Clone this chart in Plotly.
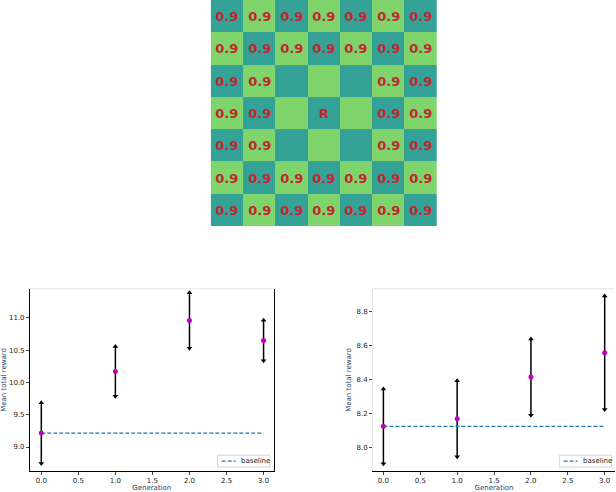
import plotly.graph_objects as go

# grid labels (top board)
board_labels = [
    ["0.9", "0.9", "0.9", "0.9", "0.9", "0.9", "0.9"],
    ["0.9", "0.9", "0.9", "0.9", "0.9", "0.9", "0.9"],
    ["0.9", "0.9", "", "", "", "0.9", "0.9"],
    ["0.9", "0.9", "", "R", "", "0.9", "0.9"],
    ["0.9", "0.9", "", "", "", "0.9", "0.9"],
    ["0.9", "0.9", "0.9", "0.9", "0.9", "0.9", "0.9"],
    ["0.9", "0.9", "0.9", "0.9", "0.9", "0.9", "0.9"],
]
board_shade = [[(r + c) % 2 for c in range(7)] for r in range(7)]

generations = [0, 1, 2, 3]
left_mean = [9.215, 10.17, 10.96, 10.65]
left_err = [0.47, 0.385, 0.43, 0.315]
left_baseline = 9.215
right_mean = [8.122, 8.167, 8.412, 8.555]
right_err = [0.22, 0.224, 0.224, 0.334]
right_baseline = 8.122

font = "DejaVu Sans"
fig = go.Figure()

fig.add_trace(go.Heatmap(
    z=board_shade, text=board_labels, texttemplate="<b>%{text}</b>",
    textfont=dict(color="#c0262d", size=13, family=font),
    colorscale=[[0, "#35a298"], [1, "#7fd46b"]], showscale=False,
    xaxis="x3", yaxis="y3", hoverinfo="skip", xgap=0, ygap=0))

shapes = []
annotations = []


def add_panel(xa, ya, mean, err, base):
    # vertical error segments
    xs, ys = [], []
    for g, m, e in zip(generations, mean, err):
        xs += [g, g, None]
        ys += [m - e, m + e, None]
    fig.add_trace(go.Scatter(x=xs, y=ys, mode="lines", line=dict(color="black", width=1.5),
                             xaxis=xa, yaxis=ya, showlegend=False, hoverinfo="skip"))
    fig.add_trace(go.Scatter(x=generations, y=[m + e for m, e in zip(mean, err)], mode="markers",
                             marker=dict(symbol="triangle-up", size=5, color="black"),
                             xaxis=xa, yaxis=ya, showlegend=False))
    fig.add_trace(go.Scatter(x=generations, y=[m - e for m, e in zip(mean, err)], mode="markers",
                             marker=dict(symbol="triangle-down", size=5, color="black"),
                             xaxis=xa, yaxis=ya, showlegend=False))
    fig.add_trace(go.Scatter(x=[generations[0], generations[-1]], y=[base, base], mode="lines",
                             line=dict(color="#1f77b4", dash="4px,2px", width=1.2), name="baseline",
                             xaxis=xa, yaxis=ya, showlegend=False))
    fig.add_trace(go.Scatter(x=generations, y=mean, mode="markers",
                             marker=dict(color="#bf00bf", size=5), xaxis=xa, yaxis=ya, showlegend=False))
    # small legend box in the lower right corner
    xd, yd = xa + " domain", ya + " domain"
    shapes.append(dict(type="rect", xref=xd, yref=yd, x0=0.77, x1=0.985, y0=0.022, y1=0.087,
                       line=dict(color="#cccccc", width=0.8), fillcolor="white", layer="above"))
    shapes.append(dict(type="line", xref=xd, yref=yd, x0=0.787, x1=0.845, y0=0.055, y1=0.055,
                       line=dict(color="#1f77b4", dash="4px,2px", width=1.2), layer="above"))
    annotations.append(dict(xref=xd, yref=yd, x=0.86, y=0.055, text="baseline", showarrow=False,
                            xanchor="left", yanchor="middle", font=dict(size=7, family=font, color="#222")))
    shapes.append(dict(type="line", xref=xd, yref=yd, x0=0, x1=1, y0=1, y1=1,
                       line=dict(color="#e4e4e4", width=1)))


add_panel("x", "y", left_mean, left_err, left_baseline)
add_panel("x2", "y2", right_mean, right_err, right_baseline)

tick_font = dict(family=font, size=7, color="#222")
ax_common = dict(showgrid=False, zeroline=False, ticks="outside", ticklen=3, tickfont=tick_font,
                 tickformat=".1f", linecolor="black", linewidth=1, showline=True)

fig.update_layout(
    width=616, height=492, margin=dict(l=0, r=0, t=0, b=0),
    paper_bgcolor="white", plot_bgcolor="white", font=dict(family=font),
    xaxis3=dict(domain=[0.341, 0.709], range=[-0.5, 6.5], visible=False),
    yaxis3=dict(domain=[0.5386, 1.0], range=[6.5, -0.5], visible=False),
    xaxis=dict(ax_common, domain=[0.0471, 0.4432], range=[-0.153, 3.135], dtick=0.5, anchor="y",
               title=dict(text="Generation", font=dict(size=7, family=font), standoff=2)),
    yaxis=dict(ax_common, domain=[0.0386, 0.4106], range=[8.627, 11.45], dtick=0.5, anchor="x",
               mirror=True, title=dict(text="Mean total reward", font=dict(size=7, family=font), standoff=4)),
    xaxis2=dict(ax_common, domain=[0.605, 0.9984], range=[-0.14, 3.14], dtick=0.5, anchor="y2",
                title=dict(text="Generation", font=dict(size=7, family=font), standoff=2)),
    yaxis2=dict(ax_common, domain=[0.0386, 0.4106], range=[7.859, 8.931], dtick=0.2, anchor="x2",
                linecolor="#e4e4e4",
                title=dict(text="Mean total reward", font=dict(size=7, family=font), standoff=4)),
    shapes=shapes, annotations=annotations,
)

fig.write_html("out.html", post_script="document.body.style.margin='0px';",
               config={"displayModeBar": False})
